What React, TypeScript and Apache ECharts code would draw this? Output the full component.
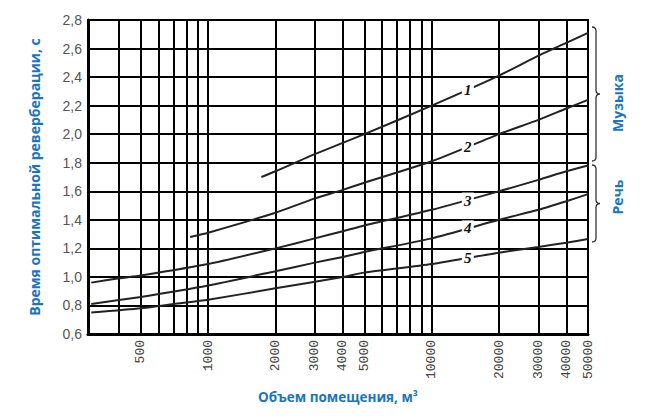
import React, { useEffect, useRef } from "react";
import * as echarts from "echarts";

// ---- data (volume in m³, optimal reverberation time in s) ----
const curveNames = ["1", "2", "3", "4", "5"];

const volume1 = [1730, 2000, 3000, 5000, 10000, 20000, 30000, 40000, 50000];
const time1 = [1.7, 1.74, 1.86, 2.0, 2.2, 2.41, 2.55, 2.64, 2.71];

const volume2 = [830, 1000, 2000, 3000, 4000, 5000, 10000, 20000, 30000, 40000, 50000];
const time2 = [1.28, 1.31, 1.45, 1.55, 1.61, 1.66, 1.81, 2.0, 2.1, 2.18, 2.24];

const volume3 = [300, 400, 500, 1000, 2000, 3000, 4000, 5000, 10000, 20000, 30000, 40000, 50000];
const time3 = [0.96, 0.99, 1.01, 1.09, 1.2, 1.27, 1.32, 1.36, 1.47, 1.6, 1.68, 1.74, 1.78];

const volume4 = [300, 500, 1000, 2000, 3000, 4000, 5000, 10000, 20000, 30000, 40000, 50000];
const time4 = [0.81, 0.86, 0.94, 1.04, 1.1, 1.14, 1.175, 1.27, 1.4, 1.47, 1.53, 1.58];

const volume5 = [300, 500, 700, 1000, 2000, 4000, 5000, 10000, 20000, 30000, 40000, 50000];
const time5 = [0.75, 0.78, 0.81, 0.84, 0.92, 1.0, 1.03, 1.09, 1.17, 1.21, 1.24, 1.265];

const labelVolume = 14500;
const labelTimes = [2.31, 1.91, 1.535, 1.34, 1.13];

const gridVolumes = [400, 500, 600, 700, 800, 900, 1000, 2000, 3000, 4000, 5000, 6000, 7000, 8000, 9000, 10000, 20000, 30000, 40000];
const tickLabelVolumes = [500, 1000, 2000, 3000, 4000, 5000, 10000, 20000, 30000, 40000, 50000];

const xMin = 290;
const xMax = 50000;
const yMin = 0.6;
const yMax = 2.8;
const yStep = 0.2;

const groupNames = ["Музыка", "Речь"];
const xTitle = "Объем помещения, м³";
const yTitle = "Время оптимальной реверберации, с";

const volumes = [volume1, volume2, volume3, volume4, volume5];
const times = [time1, time2, time3, time4, time5];

const BLUE = "#1b75bc";

function bracePath(h: number, w: number, r: number) {
  const m = h / 2;
  return `M0 0 Q${w} 0 ${w} ${r} L${w} ${m - r} Q${w} ${m} ${2 * w} ${m} Q${w} ${m} ${w} ${m + r} L${w} ${h - r} Q${w} ${h} 0 ${h}`;
}

let registered = false;
function registerShapes() {
  if (registered) return;
  registered = true;
  echarts.graphic.registerShape("braceMusic", echarts.graphic.extendPath(bracePath(134, 4, 4), {}) as any);
  echarts.graphic.registerShape("braceSpeech", echarts.graphic.extendPath(bracePath(77, 4, 4), {}) as any);
}

export default function App() {
  const ref = useRef<HTMLDivElement>(null);

  useEffect(() => {
    if (!ref.current) return;
    registerShapes();
    const chart = echarts.init(ref.current, null, { renderer: "svg" });

    const series = volumes.map((vs, i) => ({
      type: "line",
      name: curveNames[i],
      data: vs.map((v, j) => [v, times[i][j]]),
      symbol: "none",
      smooth: 0.2,
      z: 3,
      lineStyle: { color: "#222", width: 2 },
      markPoint: {
        symbol: "rect",
        symbolSize: [12, 16],
        itemStyle: { color: "#fff" },
        label: {
          show: true,
          formatter: curveNames[i],
          color: "#111",
          fontFamily: "Liberation Serif",
          fontStyle: "italic",
          fontWeight: "bold",
          fontSize: 15,
        },
        data: [{ coord: [labelVolume, labelTimes[i]], value: curveNames[i] }],
      },
    }));

    const option: any = {
      animation: false,
      backgroundColor: "#fff",
      grid: { left: 88, right: 57, top: 20, bottom: 82, show: true, borderColor: "#000", borderWidth: 2 },
      xAxis: {
        type: "log",
        logBase: 10,
        min: xMin,
        max: xMax,
        name: xTitle,
        nameLocation: "middle",
        nameGap: 56,
        nameTextStyle: { color: BLUE, fontFamily: "Open Sans", fontWeight: "bold", fontSize: 13.5 },
        axisLine: { show: true, lineStyle: { color: "#000", width: 3 } },
        axisTick: { show: false, customValues: gridVolumes },
        splitLine: { show: true, lineStyle: { color: "#000", width: 2 } },
        minorTick: { show: false },
        minorSplitLine: { show: false },
        axisLabel: {
          customValues: tickLabelVolumes,
          rotate: 90,
          margin: 6,
          formatter: (v: number) => String(Math.round(v)),
          fontFamily: "Liberation Mono",
          fontSize: 13,
          color: "#444",
        },
      },
      yAxis: {
        type: "value",
        min: yMin,
        max: yMax,
        interval: yStep,
        name: yTitle,
        nameLocation: "middle",
        nameRotate: 90,
        nameGap: 47,
        nameTextStyle: { color: BLUE, fontFamily: "Open Sans", fontWeight: "bold", fontSize: 14 },
        axisLine: { show: true, lineStyle: { color: "#000", width: 3 } },
        axisTick: { show: false },
        splitLine: { show: true, lineStyle: { color: "#000", width: 2 } },
        axisLabel: {
          margin: 6,
          formatter: (v: number) => v.toFixed(1).replace(".", ","),
          fontFamily: "Liberation Sans",
          fontSize: 14,
          color: "#555",
        },
      },
      series,
      graphic: [
        { type: "braceMusic", x: 592, y: 27, style: { stroke: "#333", lineWidth: 1.3, fill: null } },
        { type: "braceSpeech", x: 592, y: 165, style: { stroke: "#333", lineWidth: 1.3, fill: null } },
        {
          type: "text",
          x: 617,
          y: 103,
          rotation: Math.PI / 2,
          style: { text: groupNames[0], fill: BLUE, font: 'bold 14px "Open Sans"', align: "center", verticalAlign: "middle", textAlign: "center", textVerticalAlign: "middle" },
        },
        {
          type: "text",
          x: 617,
          y: 197,
          rotation: Math.PI / 2,
          style: { text: groupNames[1], fill: BLUE, font: 'bold 14px "Open Sans"', align: "center", verticalAlign: "middle", textAlign: "center", textVerticalAlign: "middle" },
        },
      ],
    };

    chart.setOption(option);
    return () => chart.dispose();
  }, []);

  return <div ref={ref} style={{ position: "fixed", left: 0, top: 0, width: 645, height: 416, background: "#fff" }} />;
}
